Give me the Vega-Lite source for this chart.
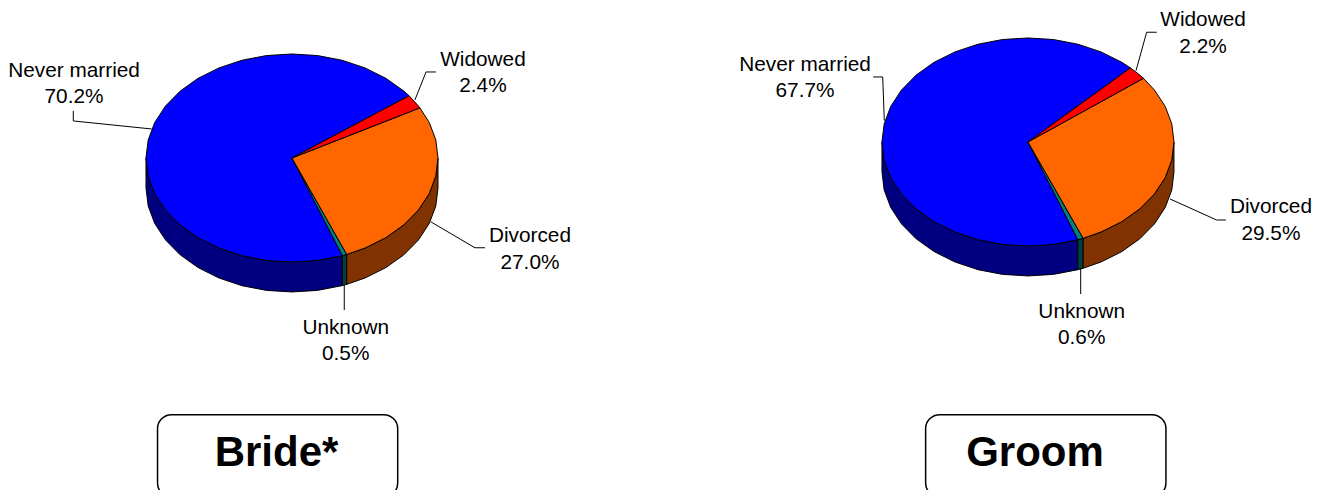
{
"$schema":"https://vega.github.io/schema/vega-lite/v6.json",
"padding":0,"spacing":0,"background":"white",
"config":{"view":{"stroke":null},"concat":{"spacing":0}},
"datasets":{
"brideSlices":[
{"slice":"Never married side","x":-1,"y":0},{"slice":"Never married side","x":-0.985,"y":-0.174},{"slice":"Never married side","x":-0.94,"y":-0.342},{"slice":"Never married side","x":-0.866,"y":-0.5},{"slice":"Never married side","x":-0.766,"y":-0.643},{"slice":"Never married side","x":-0.643,"y":-0.766},{"slice":"Never married side","x":-0.5,"y":-0.866},{"slice":"Never married side","x":-0.342,"y":-0.94},{"slice":"Never married side","x":-0.174,"y":-0.985},{"slice":"Never married side","x":0,"y":-1},{"slice":"Never married side","x":0.174,"y":-0.985},{"slice":"Never married side","x":0.345,"y":-0.939},{"slice":"Never married side","x":0.345,"y":-1.227},{"slice":"Never married side","x":0.174,"y":-1.273},{"slice":"Never married side","x":0,"y":-1.288},{"slice":"Never married side","x":-0.174,"y":-1.273},{"slice":"Never married side","x":-0.342,"y":-1.228},{"slice":"Never married side","x":-0.5,"y":-1.154},{"slice":"Never married side","x":-0.643,"y":-1.054},{"slice":"Never married side","x":-0.766,"y":-0.931},{"slice":"Never married side","x":-0.866,"y":-0.788},{"slice":"Never married side","x":-0.94,"y":-0.63},{"slice":"Never married side","x":-0.985,"y":-0.462},{"slice":"Never married side","x":-1,"y":-0.288},{"slice":"Never married side","x":-1,"y":0},
{"slice":"Unknown side","x":0.345,"y":-0.939},{"slice":"Unknown side","x":0.375,"y":-0.927},{"slice":"Unknown side","x":0.375,"y":-1.215},{"slice":"Unknown side","x":0.345,"y":-1.227},{"slice":"Unknown side","x":0.345,"y":-0.939},
{"slice":"Divorced side","x":0.375,"y":-0.927},{"slice":"Divorced side","x":0.5,"y":-0.866},{"slice":"Divorced side","x":0.643,"y":-0.766},{"slice":"Divorced side","x":0.766,"y":-0.643},{"slice":"Divorced side","x":0.866,"y":-0.5},{"slice":"Divorced side","x":0.94,"y":-0.342},{"slice":"Divorced side","x":0.985,"y":-0.174},{"slice":"Divorced side","x":1,"y":0},{"slice":"Divorced side","x":1,"y":-0.288},{"slice":"Divorced side","x":0.985,"y":-0.462},{"slice":"Divorced side","x":0.94,"y":-0.63},{"slice":"Divorced side","x":0.866,"y":-0.788},{"slice":"Divorced side","x":0.766,"y":-0.931},{"slice":"Divorced side","x":0.643,"y":-1.054},{"slice":"Divorced side","x":0.5,"y":-1.154},{"slice":"Divorced side","x":0.375,"y":-1.215},{"slice":"Divorced side","x":0.375,"y":-0.927},
{"slice":"Never married","x":0,"y":0},{"slice":"Never married","x":0.802,"y":0.598},{"slice":"Never married","x":0.766,"y":0.643},{"slice":"Never married","x":0.643,"y":0.766},{"slice":"Never married","x":0.5,"y":0.866},{"slice":"Never married","x":0.342,"y":0.94},{"slice":"Never married","x":0.174,"y":0.985},{"slice":"Never married","x":0,"y":1},{"slice":"Never married","x":-0.174,"y":0.985},{"slice":"Never married","x":-0.342,"y":0.94},{"slice":"Never married","x":-0.5,"y":0.866},{"slice":"Never married","x":-0.643,"y":0.766},{"slice":"Never married","x":-0.766,"y":0.643},{"slice":"Never married","x":-0.866,"y":0.5},{"slice":"Never married","x":-0.94,"y":0.342},{"slice":"Never married","x":-0.985,"y":0.174},{"slice":"Never married","x":-1,"y":0},{"slice":"Never married","x":-0.985,"y":-0.174},{"slice":"Never married","x":-0.94,"y":-0.342},{"slice":"Never married","x":-0.866,"y":-0.5},{"slice":"Never married","x":-0.766,"y":-0.643},{"slice":"Never married","x":-0.643,"y":-0.766},{"slice":"Never married","x":-0.5,"y":-0.866},{"slice":"Never married","x":-0.342,"y":-0.94},{"slice":"Never married","x":-0.174,"y":-0.985},{"slice":"Never married","x":0,"y":-1},{"slice":"Never married","x":0.174,"y":-0.985},{"slice":"Never married","x":0.345,"y":-0.939},{"slice":"Never married","x":0,"y":0},
{"slice":"Unknown","x":0,"y":0},{"slice":"Unknown","x":0.345,"y":-0.939},{"slice":"Unknown","x":0.375,"y":-0.927},{"slice":"Unknown","x":0,"y":0},
{"slice":"Divorced","x":0,"y":0},{"slice":"Divorced","x":0.375,"y":-0.927},{"slice":"Divorced","x":0.5,"y":-0.866},{"slice":"Divorced","x":0.643,"y":-0.766},{"slice":"Divorced","x":0.766,"y":-0.643},{"slice":"Divorced","x":0.866,"y":-0.5},{"slice":"Divorced","x":0.94,"y":-0.342},{"slice":"Divorced","x":0.985,"y":-0.174},{"slice":"Divorced","x":1,"y":0},{"slice":"Divorced","x":0.985,"y":0.174},{"slice":"Divorced","x":0.94,"y":0.342},{"slice":"Divorced","x":0.876,"y":0.482},{"slice":"Divorced","x":0,"y":0},
{"slice":"Widowed","x":0,"y":0},{"slice":"Widowed","x":0.876,"y":0.482},{"slice":"Widowed","x":0.866,"y":0.5},{"slice":"Widowed","x":0.802,"y":0.598},{"slice":"Widowed","x":0,"y":0}
],
"groomSlices":[
{"slice":"Never married side","x":-1,"y":0},{"slice":"Never married side","x":-0.985,"y":-0.174},{"slice":"Never married side","x":-0.94,"y":-0.342},{"slice":"Never married side","x":-0.866,"y":-0.5},{"slice":"Never married side","x":-0.766,"y":-0.643},{"slice":"Never married side","x":-0.643,"y":-0.766},{"slice":"Never married side","x":-0.5,"y":-0.866},{"slice":"Never married side","x":-0.342,"y":-0.94},{"slice":"Never married side","x":-0.174,"y":-0.985},{"slice":"Never married side","x":0,"y":-1},{"slice":"Never married side","x":0.174,"y":-0.985},{"slice":"Never married side","x":0.342,"y":-0.94},{"slice":"Never married side","x":0.342,"y":-1.228},{"slice":"Never married side","x":0.174,"y":-1.273},{"slice":"Never married side","x":0,"y":-1.288},{"slice":"Never married side","x":-0.174,"y":-1.273},{"slice":"Never married side","x":-0.342,"y":-1.228},{"slice":"Never married side","x":-0.5,"y":-1.154},{"slice":"Never married side","x":-0.643,"y":-1.054},{"slice":"Never married side","x":-0.766,"y":-0.931},{"slice":"Never married side","x":-0.866,"y":-0.788},{"slice":"Never married side","x":-0.94,"y":-0.63},{"slice":"Never married side","x":-0.985,"y":-0.462},{"slice":"Never married side","x":-1,"y":-0.288},{"slice":"Never married side","x":-1,"y":0},
{"slice":"Unknown side","x":0.342,"y":-0.94},{"slice":"Unknown side","x":0.378,"y":-0.926},{"slice":"Unknown side","x":0.378,"y":-1.214},{"slice":"Unknown side","x":0.342,"y":-1.228},{"slice":"Unknown side","x":0.342,"y":-0.94},
{"slice":"Divorced side","x":0.378,"y":-0.926},{"slice":"Divorced side","x":0.5,"y":-0.866},{"slice":"Divorced side","x":0.643,"y":-0.766},{"slice":"Divorced side","x":0.766,"y":-0.643},{"slice":"Divorced side","x":0.866,"y":-0.5},{"slice":"Divorced side","x":0.94,"y":-0.342},{"slice":"Divorced side","x":0.985,"y":-0.174},{"slice":"Divorced side","x":1,"y":0},{"slice":"Divorced side","x":1,"y":-0.288},{"slice":"Divorced side","x":0.985,"y":-0.462},{"slice":"Divorced side","x":0.94,"y":-0.63},{"slice":"Divorced side","x":0.866,"y":-0.788},{"slice":"Divorced side","x":0.766,"y":-0.931},{"slice":"Divorced side","x":0.643,"y":-1.054},{"slice":"Divorced side","x":0.5,"y":-1.154},{"slice":"Divorced side","x":0.378,"y":-1.214},{"slice":"Divorced side","x":0.378,"y":-0.926},
{"slice":"Never married","x":0,"y":0},{"slice":"Never married","x":0.702,"y":0.712},{"slice":"Never married","x":0.643,"y":0.766},{"slice":"Never married","x":0.5,"y":0.866},{"slice":"Never married","x":0.342,"y":0.94},{"slice":"Never married","x":0.174,"y":0.985},{"slice":"Never married","x":0,"y":1},{"slice":"Never married","x":-0.174,"y":0.985},{"slice":"Never married","x":-0.342,"y":0.94},{"slice":"Never married","x":-0.5,"y":0.866},{"slice":"Never married","x":-0.643,"y":0.766},{"slice":"Never married","x":-0.766,"y":0.643},{"slice":"Never married","x":-0.866,"y":0.5},{"slice":"Never married","x":-0.94,"y":0.342},{"slice":"Never married","x":-0.985,"y":0.174},{"slice":"Never married","x":-1,"y":0},{"slice":"Never married","x":-0.985,"y":-0.174},{"slice":"Never married","x":-0.94,"y":-0.342},{"slice":"Never married","x":-0.866,"y":-0.5},{"slice":"Never married","x":-0.766,"y":-0.643},{"slice":"Never married","x":-0.643,"y":-0.766},{"slice":"Never married","x":-0.5,"y":-0.866},{"slice":"Never married","x":-0.342,"y":-0.94},{"slice":"Never married","x":-0.174,"y":-0.985},{"slice":"Never married","x":0,"y":-1},{"slice":"Never married","x":0.174,"y":-0.985},{"slice":"Never married","x":0.342,"y":-0.94},{"slice":"Never married","x":0,"y":0},
{"slice":"Unknown","x":0,"y":0},{"slice":"Unknown","x":0.342,"y":-0.94},{"slice":"Unknown","x":0.378,"y":-0.926},{"slice":"Unknown","x":0,"y":0},
{"slice":"Divorced","x":0,"y":0},{"slice":"Divorced","x":0.378,"y":-0.926},{"slice":"Divorced","x":0.5,"y":-0.866},{"slice":"Divorced","x":0.643,"y":-0.766},{"slice":"Divorced","x":0.766,"y":-0.643},{"slice":"Divorced","x":0.866,"y":-0.5},{"slice":"Divorced","x":0.94,"y":-0.342},{"slice":"Divorced","x":0.985,"y":-0.174},{"slice":"Divorced","x":1,"y":0},{"slice":"Divorced","x":0.985,"y":0.174},{"slice":"Divorced","x":0.94,"y":0.342},{"slice":"Divorced","x":0.866,"y":0.5},{"slice":"Divorced","x":0.791,"y":0.612},{"slice":"Divorced","x":0,"y":0},
{"slice":"Widowed","x":0,"y":0},{"slice":"Widowed","x":0.791,"y":0.612},{"slice":"Widowed","x":0.766,"y":0.643},{"slice":"Widowed","x":0.702,"y":0.712},{"slice":"Widowed","x":0,"y":0}
],
"brideLeaders":[
{"name":"Widowed","x":0.842,"y":0.558},{"name":"Widowed","x":0.918,"y":0.827},{"name":"Widowed","x":0.986,"y":0.827},
{"name":"Never married","x":-1.498,"y":0.452},{"name":"Never married","x":-1.498,"y":0.356},{"name":"Never married","x":-0.961,"y":0.279},
{"name":"Divorced","x":0.95,"y":-0.613},{"name":"Divorced","x":1.253,"y":-0.863},{"name":"Divorced","x":1.322,"y":-0.863},
{"name":"Unknown","x":0.358,"y":-1.221},{"name":"Unknown","x":0.358,"y":-1.462}
],
"groomLeaders":[
{"name":"Widowed","x":0.74,"y":0.686},{"name":"Widowed","x":0.813,"y":1.055},{"name":"Widowed","x":0.882,"y":1.055},
{"name":"Never married","x":-1.06,"y":0.625},{"name":"Never married","x":-0.995,"y":0.625},{"name":"Never married","x":-0.984,"y":0.205},
{"name":"Divorced","x":0.973,"y":-0.548},{"name":"Divorced","x":1.292,"y":-0.75},{"name":"Divorced","x":1.356,"y":-0.75},
{"name":"Unknown","x":0.361,"y":-1.214},{"name":"Unknown","x":0.361,"y":-1.462}
],
"brideLabels":[
{"label":"Widowed\n2.4%","x":1.308,"y":0.885},
{"label":"Never married\n70.2%","x":-1.493,"y":0.782},
{"label":"Unknown\n0.5%","x":0.368,"y":-1.692},
{"label":"Divorced\n27.0%","x":1.63,"y":-0.808}
],
"groomLabels":[
{"label":"Widowed\n2.2%","x":1.199,"y":1.115},
{"label":"Never married\n67.7%","x":-1.527,"y":0.686},
{"label":"Unknown\n0.6%","x":0.368,"y":-1.689},
{"label":"Divorced\n29.5%","x":1.664,"y":-0.686}
]
},
"hconcat":[
{"width":664,"height":490,
"layer":[
{"data":{"name":"brideSlices"},"mark":{"type":"line","stroke":"#000000","strokeWidth":1,"strokeJoin":"round"},
"encoding":{"x":{"field":"x","type":"quantitative","axis":null,"scale":{"domain":[-2,2.548],"nice":false,"zero":false}},"y":{"field":"y","type":"quantitative","axis":null,"scale":{"domain":[-3.192,1.519],"nice":false,"zero":false}},"order":{"value":null},
"fill":{"field":"slice","type":"nominal","legend":null,"scale":{"domain":["Never married side","Unknown side","Divorced side","Never married","Unknown","Divorced","Widowed"],"range":["#000080","#004040","#803300","#0000FF","#008080","#FF6600","#FF0000"]}}}},
{"data":{"name":"brideLeaders"},"mark":{"type":"line","stroke":"#000000","strokeWidth":1},
"encoding":{"x":{"field":"x","type":"quantitative","axis":null},"y":{"field":"y","type":"quantitative","axis":null},"order":{"value":null},"detail":{"field":"name"}}},
{"data":{"name":"brideLabels"},"mark":{"type":"text","font":"Liberation Sans","fontSize":20.8,"align":"center","baseline":"alphabetic","lineBreak":"\n","lineHeight":26.5,"color":"#000000"},
"encoding":{"x":{"field":"x","type":"quantitative","axis":null},"y":{"field":"y","type":"quantitative","axis":null},"text":{"field":"label"}}},
{"data":{"values":[{"pie":"Bride*","x":-0.921,"x2":0.724,"y":-2.468,"y2":-3.26}]},"mark":{"type":"rect","fill":"#FFFFFF","stroke":"#000000","strokeWidth":1.5,"cornerRadius":14,"clip":true},
"encoding":{"x":{"field":"x","type":"quantitative","axis":null},"x2":{"field":"x2"},"y":{"field":"y","type":"quantitative","axis":null},"y2":{"field":"y2"}}},
{"data":{"values":[{"pie":"Bride*","tx":-0.106,"ty":-2.962}]},"mark":{"type":"text","font":"Liberation Sans","fontWeight":"bold","fontSize":42,"align":"center","baseline":"alphabetic","color":"#000000"},
"encoding":{"x":{"field":"tx","type":"quantitative","axis":null},"y":{"field":"ty","type":"quantitative","axis":null},"text":{"field":"pie"}}}
]},
{"width":664,"height":490,
"layer":[
{"data":{"name":"groomSlices"},"mark":{"type":"line","stroke":"#000000","strokeWidth":1,"strokeJoin":"round"},
"encoding":{"x":{"field":"x","type":"quantitative","axis":null,"scale":{"domain":[-2.493,2.055],"nice":false,"zero":false}},"y":{"field":"y","type":"quantitative","axis":null,"scale":{"domain":[-3.346,1.365],"nice":false,"zero":false}},"order":{"value":null},
"fill":{"field":"slice","type":"nominal","legend":null,"scale":{"domain":["Never married side","Unknown side","Divorced side","Never married","Unknown","Divorced","Widowed"],"range":["#000080","#004040","#803300","#0000FF","#008080","#FF6600","#FF0000"]}}}},
{"data":{"name":"groomLeaders"},"mark":{"type":"line","stroke":"#000000","strokeWidth":1},
"encoding":{"x":{"field":"x","type":"quantitative","axis":null},"y":{"field":"y","type":"quantitative","axis":null},"order":{"value":null},"detail":{"field":"name"}}},
{"data":{"name":"groomLabels"},"mark":{"type":"text","font":"Liberation Sans","fontSize":20.8,"align":"center","baseline":"alphabetic","lineBreak":"\n","lineHeight":26.5,"color":"#000000"},
"encoding":{"x":{"field":"x","type":"quantitative","axis":null},"y":{"field":"y","type":"quantitative","axis":null},"text":{"field":"label"}}},
{"data":{"values":[{"pie":"Groom","x":-0.701,"x2":0.945,"y":-2.622,"y2":-3.413}]},"mark":{"type":"rect","fill":"#FFFFFF","stroke":"#000000","strokeWidth":1.5,"cornerRadius":14,"clip":true},
"encoding":{"x":{"field":"x","type":"quantitative","axis":null},"x2":{"field":"x2"},"y":{"field":"y","type":"quantitative","axis":null},"y2":{"field":"y2"}}},
{"data":{"values":[{"pie":"Groom","tx":0.048,"ty":-3.115}]},"mark":{"type":"text","font":"Liberation Sans","fontWeight":"bold","fontSize":42,"align":"center","baseline":"alphabetic","color":"#000000"},
"encoding":{"x":{"field":"tx","type":"quantitative","axis":null},"y":{"field":"ty","type":"quantitative","axis":null},"text":{"field":"pie"}}}
]}
]
}
